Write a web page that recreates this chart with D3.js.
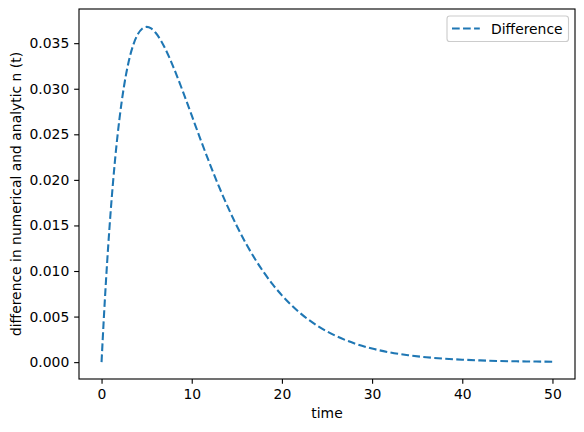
<!DOCTYPE html>
<html><head><meta charset="utf-8">
<script src="https://cdn.jsdelivr.net/npm/d3@7"></script>
<style>body{margin:0;background:#fff}svg{display:block}text{font-family:"DejaVu Sans",sans-serif}</style>
</head><body><svg id="c" width="584" height="432"></svg>
<script>
const times = [0,0.25,0.5,1,1.5,2,2.5,3,3.5,4,4.5,5,5.5,6,6.5,7,7.5,8,9,10,11,12,13,14,15,16,17,18,19,20,22,24,26,28,30,32,34,36,38,40,42,44,46,48,50];
const difference = [0,0.00476,0.00905,0.01637,0.02222,0.02681,0.03033,0.03293,0.03476,0.03595,0.03659,0.03679,0.03662,0.03614,0.03543,0.03452,0.03347,0.03230,0.02975,0.02707,0.02437,0.02177,0.01931,0.01703,0.01494,0.01304,0.01135,0.00984,0.00850,0.00733,0.00540,0.00395,0.00287,0.00207,0.00149,0.00106,0.00076,0.00054,0.00038,0.00027,0.00019,0.00013,0.00009,0.000065,0.000045];
const xTicks = [0,10,20,30,40,50];
const yTicks = [0,0.005,0.010,0.015,0.020,0.025,0.030,0.035];
const seriesName = "Difference";
const xLabel = "time";
const yLabel = "difference in numerical and analytic n (t)";

const L=79,R=575,T=9,B=379;
const svg=d3.select("#c");
const x=d3.scaleLinear().domain([-2.5,52.5]).range([L,R]);
const y=d3.scaleLinear().domain([-0.00185,0.03875]).range([B,T]);
const fs=13.9;
const xa=svg.append("g").attr("transform",`translate(0,${B})`)
  .call(d3.axisBottom(x).tickValues(xTicks).tickFormat(d3.format("d")).tickSize(4.86).tickPadding(4.86));
const ya=svg.append("g").attr("transform",`translate(${L},0)`)
  .call(d3.axisLeft(y).tickValues(yTicks).tickFormat(d3.format(".3f")).tickSize(4.86).tickPadding(4.86));
[xa,ya].forEach(a=>{a.select(".domain").remove();a.selectAll("line").attr("stroke","#000").attr("stroke-width",1.11);
  a.selectAll("text").attr("font-size",fs).attr("font-family","DejaVu Sans").attr("fill","#000");});
const line=d3.line().x((d,i)=>x(times[i])).y(d=>y(d)).curve(d3.curveMonotoneX);
svg.append("path").datum(difference).attr("d",line).attr("fill","none").attr("stroke","#1f77b4")
  .attr("stroke-width",2.08).attr("stroke-dasharray","7.7,3.33");
svg.append("rect").attr("x",L).attr("y",T).attr("width",R-L).attr("height",B-T).attr("fill","none").attr("stroke","#000").attr("stroke-width",1.11);
svg.append("text").attr("x",(L+R)/2).attr("y",418).attr("text-anchor","middle").attr("font-size",fs).text(xLabel);
svg.append("text").attr("transform",`translate(21,${(T+B)/2}) rotate(-90)`).attr("text-anchor","middle").attr("font-size",fs).text(yLabel);
const lg=svg.append("g");
lg.append("rect").attr("x",447).attr("y",16).attr("width",121.5).attr("height",25.5).attr("rx",2.8)
  .attr("fill","#fff").attr("fill-opacity",0.8).attr("stroke","#cccccc").attr("stroke-width",1.11);
lg.append("line").attr("x1",452).attr("x2",479.8).attr("y1",28.5).attr("y2",28.5).attr("stroke","#1f77b4")
  .attr("stroke-width",2.08).attr("stroke-dasharray","7.7,3.33");
lg.append("text").attr("x",491).attr("y",33.5).attr("font-size",fs).text(seriesName);
</script></body></html>
